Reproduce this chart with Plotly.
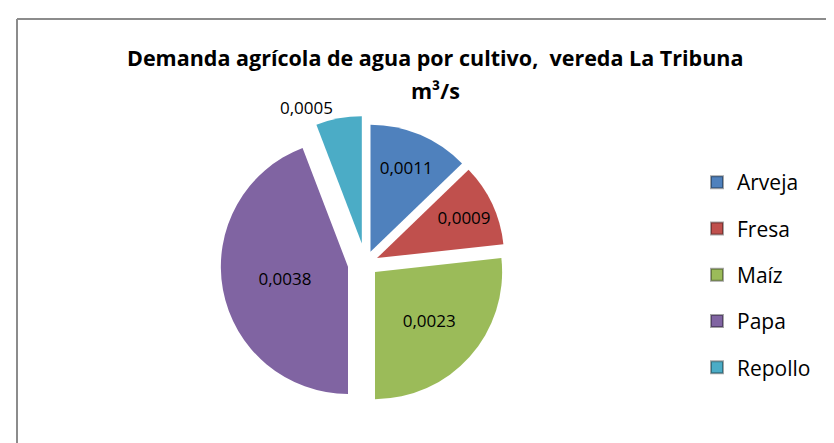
import plotly.graph_objects as go

labels = ["Arveja", "Fresa", "Maíz", "Papa", "Repollo"]
values = [0.0011, 0.0009, 0.0023, 0.0038, 0.0005]
colors = ["#4F81BD", "#C0504D", "#9BBB59", "#8064A2", "#4BACC6"]
pulls = [0.1, 0.1, 0.1, 0.14, 0.16]
text_pos = ["inside", "inside", "inside", "inside", "outside"]
title_lines = ["Demanda agrícola de agua por cultivo,  vereda La Tribuna", "m³/s"]

W, H = 834, 443
FONT = "Open Sans"

fig = go.Figure()
fig.add_trace(go.Pie(
    labels=labels, values=values, sort=False, direction="clockwise", rotation=0,
    marker=dict(colors=colors, line=dict(color="white", width=0)),
    pull=pulls, textposition=text_pos, insidetextorientation="horizontal",
    texttemplate="%{value:.4f}", textfont=dict(family=FONT, size=17, color="black"),
    hoverinfo="label+value", showlegend=False,
    domain=dict(x=[130 / W, 585 / W], y=[40 / H, 335 / H]),
))

for lab, col in zip(labels, colors):
    fig.add_trace(go.Scatter(
        x=[None], y=[None], mode="markers", name=lab, legendgroup=lab,
        marker=dict(symbol="square", size=13, color=col,
                    line=dict(color="rgba(0,0,0,0.35)", width=1)),
        showlegend=True,
    ))

annotations = []
for line, ypix in zip(title_lines, [50, 82]):
    annotations.append(dict(
        text=line, xref="paper", yref="paper", x=427 / W, y=1 - ypix / H,
        xanchor="center", yanchor="middle", showarrow=False,
        font=dict(family=FONT, size=21.5, color="black", weight="bold"),
    ))

fig.update_layout(
    width=W, height=H,
    separators=",.",
    paper_bgcolor="white", plot_bgcolor="white",
    margin=dict(l=0, r=0, t=0, b=0),
    xaxis=dict(visible=False), yaxis=dict(visible=False),
    annotations=annotations,
    legend=dict(
        x=689 / W, y=1 - 154 / H, xanchor="left", yanchor="top",
        font=dict(family=FONT, size=21, color="black"),
        tracegroupgap=16, itemsizing="constant",
        bgcolor="rgba(0,0,0,0)",
    ),
    shapes=[
        dict(type="line", xref="paper", yref="paper", x0=9 / W, x1=1, y0=1 - 11 / H, y1=1 - 11 / H,
             line=dict(color="#8c8c8c", width=2)),
        dict(type="line", xref="paper", yref="paper", x0=9 / W, x1=9 / W, y0=0, y1=1 - 11 / H,
             line=dict(color="#8c8c8c", width=2)),
    ],
)

fig.write_html("out.html")
